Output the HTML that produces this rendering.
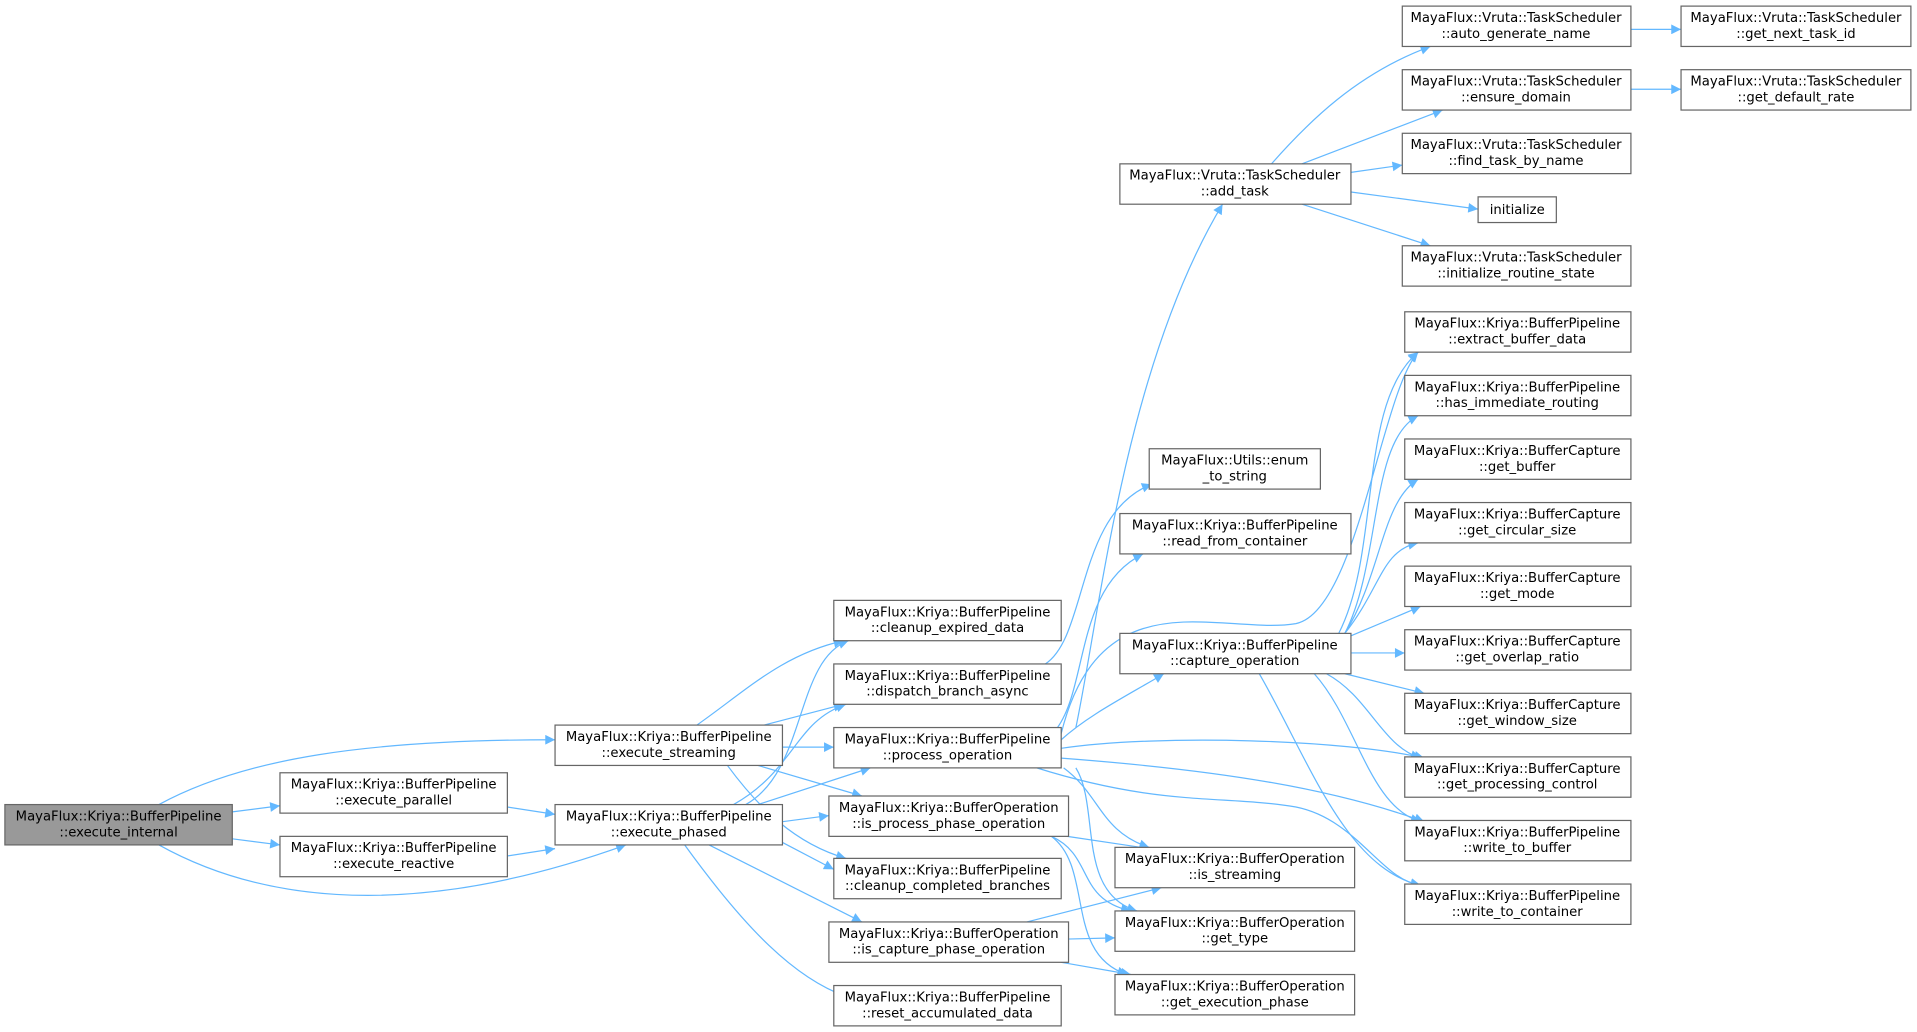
<!DOCTYPE html>
<html><head><meta charset="utf-8"><style>
html,body{margin:0;padding:0;background:#fff;width:1917px;height:1032px;overflow:hidden}
svg{display:block}
text{font-family:"DejaVu Sans","Liberation Sans",sans-serif;font-size:10.8px;fill:#000;text-anchor:middle}
.n{fill:#fff;stroke:#666;stroke-width:1}
.e{fill:none;stroke:#63b8ff;stroke-width:1}
</style></head><body>
<svg width="1917" height="1032" viewBox="0 0 1568 844" preserveAspectRatio="none">
<defs><marker id="a" viewBox="0 0 10 10" refX="10" refY="5" markerWidth="11" markerHeight="8" orient="auto" markerUnits="userSpaceOnUse"><path d="M0,0L10,5L0,10z" fill="#63b8ff"/></marker></defs>
<g marker-end="url(#a)">
<path class="e" d="M130,658 C200,620 300,605 454,605"/>
<path class="e" d="M190,664 L229,659"/>
<path class="e" d="M190,686 L229,691"/>
<path class="e" d="M130,691 C200,730 320,760 512,691"/>
<path class="e" d="M415,660 L454,666"/>
<path class="e" d="M415,700 L454,694"/>
<path class="e" d="M570,593 C610,565 640,535 690,524"/>
<path class="e" d="M625,593 L690,576"/>
<path class="e" d="M640,611 L682,611"/>
<path class="e" d="M620,626 L705,651"/>
<path class="e" d="M595,626 C620,660 650,690 692,702"/>
<path class="e" d="M610,658 C660,630 650,540 694,524"/>
<path class="e" d="M600,658 C650,630 650,590 692,576"/>
<path class="e" d="M620,658 L712,628"/>
<path class="e" d="M640,672 L678,667"/>
<path class="e" d="M640,689 L682,711"/>
<path class="e" d="M580,691 L705,754"/>
<path class="e" d="M560,691 C610,760 650,800 692,815"/>
<path class="e" d="M855,543 C890,520 880,420 942,396"/>
<path class="e" d="M880,595 C900,500 920,300 1000,167"/>
<path class="e" d="M865,595 C890,560 880,480 935,453"/>
<path class="e" d="M868,605 C890,585 920,570 952,551"/>
<path class="e" d="M868,600 C900,470 1000,520 1060,510 C1110,500 1130,320 1160,288"/>
<path class="e" d="M868,612 C950,600 1100,605 1165,620"/>
<path class="e" d="M868,620 C1000,630 1090,645 1165,672"/>
<path class="e" d="M848,628 C950,660 1000,650 1060,660 C1110,670 1130,720 1162,724"/>
<path class="e" d="M870,628 C900,650 900,680 940,693"/>
<path class="e" d="M880,628 C900,660 880,730 930,745"/>
<path class="e" d="M873,684 L940,694"/>
<path class="e" d="M860,684 C895,700 880,735 925,745"/>
<path class="e" d="M860,684 C895,710 870,780 922,797"/>
<path class="e" d="M840,754 L950,726"/>
<path class="e" d="M873,768 L912,767"/>
<path class="e" d="M868,787 L925,797"/>
<path class="e" d="M1040,134 C1070,100 1110,60 1170,38"/>
<path class="e" d="M1065,134 L1180,90"/>
<path class="e" d="M1105,141 L1147,135"/>
<path class="e" d="M1105,157 L1209,171"/>
<path class="e" d="M1065,167 L1170,201"/>
<path class="e" d="M1334,24 L1375,24"/>
<path class="e" d="M1334,73 L1375,73"/>
<path class="e" d="M1095,518 C1130,450 1110,330 1160,288"/>
<path class="e" d="M1100,518 C1130,460 1120,360 1160,340"/>
<path class="e" d="M1100,518 C1130,470 1130,410 1160,392"/>
<path class="e" d="M1100,518 C1130,480 1130,450 1160,444"/>
<path class="e" d="M1105,520 L1162,496"/>
<path class="e" d="M1105,534 L1149,534"/>
<path class="e" d="M1100,551 L1165,567"/>
<path class="e" d="M1085,551 C1120,570 1130,610 1162,620"/>
<path class="e" d="M1075,551 C1110,590 1120,660 1162,672"/>
<path class="e" d="M1030,551 C1070,620 1100,710 1162,724"/>
</g>
<rect x="4" y="658" width="186" height="33" fill="#999" stroke="#666"/>
<text x="97" y="671">MayaFlux::Kriya::BufferPipeline</text><text x="97" y="684">::execute_internal</text>
<rect class="n" x="454" y="593" width="186" height="33"/><text x="547" y="606">MayaFlux::Kriya::BufferPipeline</text><text x="547" y="619">::execute_streaming</text>
<rect class="n" x="229" y="632" width="186" height="33"/><text x="322" y="645">MayaFlux::Kriya::BufferPipeline</text><text x="322" y="658">::execute_parallel</text>
<rect class="n" x="229" y="684" width="186" height="33"/><text x="322" y="697">MayaFlux::Kriya::BufferPipeline</text><text x="322" y="710">::execute_reactive</text>
<rect class="n" x="454" y="658" width="186" height="33"/><text x="547" y="671">MayaFlux::Kriya::BufferPipeline</text><text x="547" y="684">::execute_phased</text>
<rect class="n" x="682" y="491" width="186" height="33"/><text x="775" y="504">MayaFlux::Kriya::BufferPipeline</text><text x="775" y="517">::cleanup_expired_data</text>
<rect class="n" x="682" y="543" width="186" height="33"/><text x="775" y="556">MayaFlux::Kriya::BufferPipeline</text><text x="775" y="569">::dispatch_branch_async</text>
<rect class="n" x="682" y="595" width="186" height="33"/><text x="775" y="608">MayaFlux::Kriya::BufferPipeline</text><text x="775" y="621">::process_operation</text>
<rect class="n" x="678" y="651" width="196" height="33"/><text x="776" y="664">MayaFlux::Kriya::BufferOperation</text><text x="776" y="677">::is_process_phase_operation</text>
<rect class="n" x="682" y="702" width="186" height="33"/><text x="775" y="715">MayaFlux::Kriya::BufferPipeline</text><text x="775" y="728">::cleanup_completed_branches</text>
<rect class="n" x="678" y="754" width="196" height="33"/><text x="776" y="767">MayaFlux::Kriya::BufferOperation</text><text x="776" y="780">::is_capture_phase_operation</text>
<rect class="n" x="682" y="806" width="186" height="33"/><text x="775" y="819">MayaFlux::Kriya::BufferPipeline</text><text x="775" y="832">::reset_accumulated_data</text>
<rect class="n" x="916" y="134" width="189" height="33"/><text x="1010" y="147">MayaFlux::Vruta::TaskScheduler</text><text x="1010" y="160">::add_task</text>
<rect class="n" x="940" y="367" width="140" height="33"/><text x="1010" y="380">MayaFlux::Utils::enum</text><text x="1010" y="393">_to_string</text>
<rect class="n" x="916" y="420" width="189" height="33"/><text x="1010" y="433">MayaFlux::Kriya::BufferPipeline</text><text x="1010" y="446">::read_from_container</text>
<rect class="n" x="916" y="518" width="189" height="33"/><text x="1010" y="531">MayaFlux::Kriya::BufferPipeline</text><text x="1010" y="544">::capture_operation</text>
<rect class="n" x="912" y="693" width="196" height="33"/><text x="1010" y="706">MayaFlux::Kriya::BufferOperation</text><text x="1010" y="719">::is_streaming</text>
<rect class="n" x="912" y="745" width="196" height="33"/><text x="1010" y="758">MayaFlux::Kriya::BufferOperation</text><text x="1010" y="771">::get_type</text>
<rect class="n" x="912" y="797" width="196" height="33"/><text x="1010" y="810">MayaFlux::Kriya::BufferOperation</text><text x="1010" y="823">::get_execution_phase</text>
<rect class="n" x="1147" y="5" width="187" height="33"/><text x="1240" y="18">MayaFlux::Vruta::TaskScheduler</text><text x="1240" y="31">::auto_generate_name</text>
<rect class="n" x="1147" y="57" width="187" height="33"/><text x="1240" y="70">MayaFlux::Vruta::TaskScheduler</text><text x="1240" y="83">::ensure_domain</text>
<rect class="n" x="1147" y="109" width="187" height="33"/><text x="1240" y="122">MayaFlux::Vruta::TaskScheduler</text><text x="1240" y="135">::find_task_by_name</text>
<rect class="n" x="1209" y="161" width="64" height="21"/><text x="1241" y="175">initialize</text>
<rect class="n" x="1147" y="201" width="187" height="33"/><text x="1240" y="214">MayaFlux::Vruta::TaskScheduler</text><text x="1240" y="227">::initialize_routine_state</text>
<rect class="n" x="1375" y="5" width="188" height="33"/><text x="1469" y="18">MayaFlux::Vruta::TaskScheduler</text><text x="1469" y="31">::get_next_task_id</text>
<rect class="n" x="1375" y="57" width="188" height="33"/><text x="1469" y="70">MayaFlux::Vruta::TaskScheduler</text><text x="1469" y="83">::get_default_rate</text>
<rect class="n" x="1149" y="255" width="185" height="33"/><text x="1241" y="268">MayaFlux::Kriya::BufferPipeline</text><text x="1241" y="281">::extract_buffer_data</text>
<rect class="n" x="1149" y="307" width="185" height="33"/><text x="1241" y="320">MayaFlux::Kriya::BufferPipeline</text><text x="1241" y="333">::has_immediate_routing</text>
<rect class="n" x="1149" y="359" width="185" height="33"/><text x="1241" y="372">MayaFlux::Kriya::BufferCapture</text><text x="1241" y="385">::get_buffer</text>
<rect class="n" x="1149" y="411" width="185" height="33"/><text x="1241" y="424">MayaFlux::Kriya::BufferCapture</text><text x="1241" y="437">::get_circular_size</text>
<rect class="n" x="1149" y="463" width="185" height="33"/><text x="1241" y="476">MayaFlux::Kriya::BufferCapture</text><text x="1241" y="489">::get_mode</text>
<rect class="n" x="1149" y="515" width="185" height="33"/><text x="1241" y="528">MayaFlux::Kriya::BufferCapture</text><text x="1241" y="541">::get_overlap_ratio</text>
<rect class="n" x="1149" y="567" width="185" height="33"/><text x="1241" y="580">MayaFlux::Kriya::BufferCapture</text><text x="1241" y="593">::get_window_size</text>
<rect class="n" x="1149" y="619" width="185" height="33"/><text x="1241" y="632">MayaFlux::Kriya::BufferCapture</text><text x="1241" y="645">::get_processing_control</text>
<rect class="n" x="1149" y="671" width="185" height="33"/><text x="1241" y="684">MayaFlux::Kriya::BufferPipeline</text><text x="1241" y="697">::write_to_buffer</text>
<rect class="n" x="1149" y="723" width="185" height="33"/><text x="1241" y="736">MayaFlux::Kriya::BufferPipeline</text><text x="1241" y="749">::write_to_container</text>
</svg>
</body></html>
